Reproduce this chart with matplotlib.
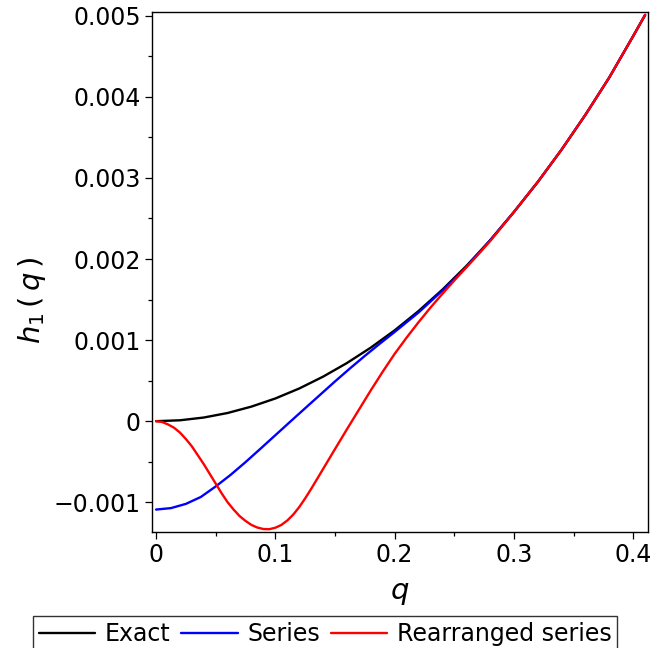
import numpy as np
import matplotlib
matplotlib.use("Agg")
import matplotlib.pyplot as plt
from matplotlib.ticker import FixedLocator, MultipleLocator

plt.rcParams['font.family'] = ['DejaVu Sans']
plt.rcParams['mathtext.fontset'] = 'dejavusans'

# ── Curve samples (q, h1) ──────────────────────────────────────────────────────
q_exact = [0.0, 0.02, 0.04, 0.06, 0.08, 0.10, 0.12, 0.14, 0.16, 0.18, 0.20,
           0.22, 0.24, 0.26, 0.28, 0.30, 0.32, 0.34, 0.36, 0.38, 0.40, 0.41]
h_exact = [0.0, 0.000011, 0.000045, 0.000101, 0.000180, 0.000280, 0.000403,
           0.000549, 0.000717, 0.000907, 0.001120, 0.001358, 0.001622,
           0.001912, 0.002230, 0.002580, 0.002950, 0.003350, 0.003780,
           0.004240, 0.004750, 0.005010]

q_series = [0.0, 0.0125, 0.025, 0.0375, 0.05, 0.0625, 0.075, 0.0875, 0.10,
            0.1125, 0.125, 0.1375, 0.15, 0.1625, 0.175, 0.1875, 0.20, 0.22,
            0.24, 0.26, 0.28, 0.30, 0.32, 0.34, 0.36, 0.38, 0.40, 0.41]
h_series = [-0.00109, -0.001072, -0.00102, -0.000935, -0.000805, -0.000662,
            -0.000505, -0.00034, -0.000173, -0.000006, 0.00016, 0.000325,
            0.00049, 0.00065, 0.000805, 0.000955, 0.00110, 0.00134, 0.00161,
            0.00190, 0.00223, 0.00258, 0.00295, 0.00335, 0.00378, 0.00424,
            0.00475, 0.00501]

q_rearr = [0.0, 0.005, 0.01, 0.015, 0.02, 0.025, 0.03, 0.035, 0.04, 0.045,
           0.05, 0.055, 0.06, 0.065, 0.07, 0.075, 0.08, 0.085, 0.09, 0.095,
           0.10, 0.105, 0.11, 0.115, 0.12, 0.125, 0.13, 0.135, 0.14, 0.145,
           0.15, 0.16, 0.17, 0.18, 0.19, 0.20, 0.21, 0.22, 0.23, 0.24, 0.25,
           0.26, 0.27, 0.28, 0.29, 0.30, 0.32, 0.34, 0.36, 0.38, 0.40, 0.41]
h_rearr = [0.0, -0.00001, -0.00004, -0.00008, -0.00014, -0.00022, -0.00031,
           -0.00042, -0.00053, -0.00065, -0.00077, -0.00089, -0.00100,
           -0.00109, -0.00117, -0.00123, -0.00128, -0.001312, -0.00133,
           -0.001332, -0.001314, -0.00128, -0.001225, -0.001152, -0.00106,
           -0.000952, -0.000835, -0.000713, -0.00059, -0.000467, -0.000344,
           -0.00010, 0.00014, 0.00038, 0.00061, 0.00083, 0.00103, 0.00122,
           0.00140, 0.00157, 0.001735, 0.001895, 0.002055, 0.00222,
           0.00240, 0.00258, 0.00295, 0.00335, 0.00378, 0.00424, 0.00475,
           0.00501]

x_ticks = [0.0, 0.1, 0.2, 0.3, 0.4]
x_labels = ['0', '0.1', '0.2', '0.3', '0.4']
y_ticks = [-0.001, 0.0, 0.001, 0.002, 0.003, 0.004, 0.005]
y_labels = ['\u22120.001', '0', '0.001', '0.002', '0.003', '0.004', '0.005']

series_names = ['Exact', 'Series', 'Rearranged series']
series_colors = ['#000000', '#0000ff', '#ff0000']

# ── Figure ─────────────────────────────────────────────────────────────────────
fig = plt.figure(figsize=(6.54, 6.48), dpi=100)
ax = fig.add_axes([152 / 654, 1 - 531.7 / 648, 496 / 654, 520 / 648])

curves = [(q_exact, h_exact), (q_series, h_series), (q_rearr, h_rearr)]
lines = []
for (qq, hh), name, col in zip(curves, series_names, series_colors):
    (ln,) = ax.plot(qq, hh, color=col, lw=1.7, label=name,
                    solid_capstyle='round', solid_joinstyle='round')
    lines.append(ln)

ax.set_xlim(-0.0034, 0.4124)
ax.set_ylim(-0.001363, 0.00505)

ax.xaxis.set_major_locator(FixedLocator(x_ticks))
ax.set_xticklabels(x_labels)
ax.yaxis.set_major_locator(FixedLocator(y_ticks))
ax.set_yticklabels(y_labels)
ax.xaxis.set_minor_locator(MultipleLocator(0.05))
ax.yaxis.set_minor_locator(MultipleLocator(0.0005))

ax.tick_params(which='both', direction='out', top=False, right=False,
               labelsize=17, color='black', width=0.9)
ax.tick_params(which='major', length=5, pad=3)
ax.tick_params(which='minor', length=3)
for sp in ax.spines.values():
    sp.set_linewidth(1.0)
    sp.set_color('black')

ax.set_xlabel(r'$q$', fontsize=21, labelpad=9)
ax.set_ylabel(r'$h_1\,(\,q\,)$', fontsize=21)
# label sits a little below the middle of the axis
ax.yaxis.set_label_coords(-0.21, 0.445)

leg = fig.legend(lines, series_names, loc='lower center',
                 bbox_to_anchor=(325 / 654, -0.006), ncol=3, fontsize=17,
                 frameon=True, fancybox=False, edgecolor='black',
                 handlelength=2.4, handletextpad=0.4, columnspacing=0.45,
                 borderpad=0.25, borderaxespad=0.0)
leg.get_frame().set_linewidth(1.0)

fig.savefig('out.png', dpi=100)
